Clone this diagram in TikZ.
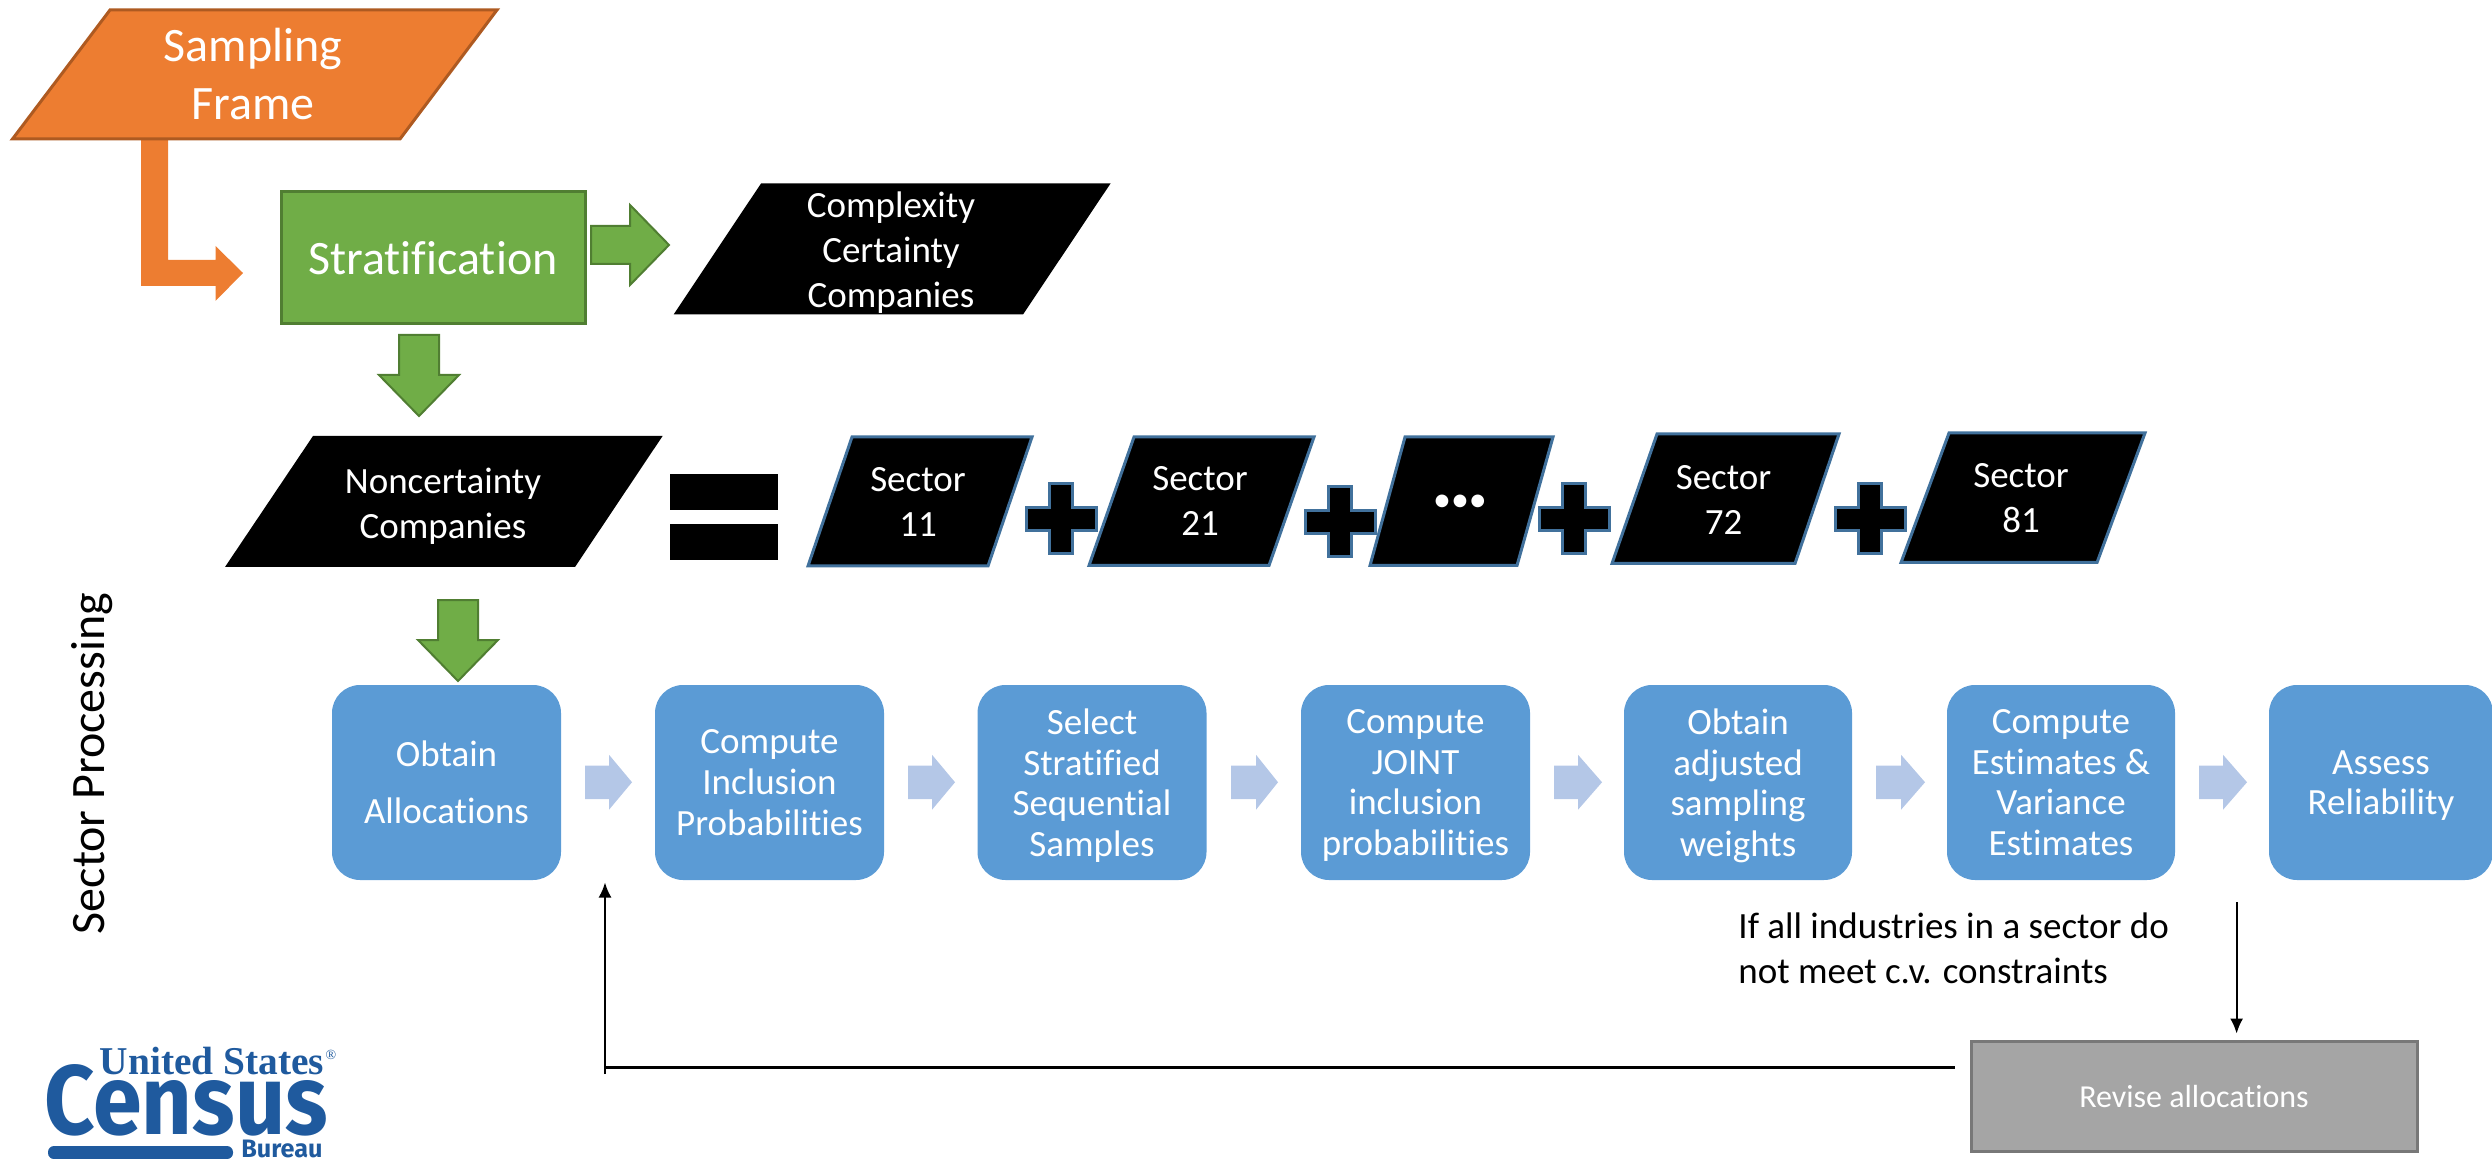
\documentclass[tikz,border=0pt]{standalone}
\usepackage{fontspec}
\setmainfont[Ligatures=NoCommon]{Carlito}
\newfontfamily\logoserif{Liberation Serif}
\newfontfamily\logosans{Fira Sans}
\definecolor{orangeF}{HTML}{ED7D31}
\definecolor{orangeD}{HTML}{AE5A21}
\definecolor{greenF}{HTML}{70AD47}
\definecolor{greenD}{HTML}{507E32}
\definecolor{blueF}{HTML}{5B9BD5}
\definecolor{blueD}{HTML}{41719C}
\definecolor{lightA}{HTML}{B4C7E7}
\definecolor{grayF}{HTML}{A5A5A5}
\definecolor{grayD}{HTML}{787878}
\definecolor{logoB}{HTML}{1F5A9E}
\newcommand{\fs}[2]{\fontsize{#1pt}{#2pt}\selectfont}
\newcommand{\nod}[1]{\raisebox{0pt}[\height][0pt]{#1}}
% font sizes are in picture px x 0.5
\tikzset{
  x=0.5pt,y=-0.5pt,
  orangeShape/.style={fill=orangeF,draw=orangeD,line width=1.5pt,line join=miter},
  orangeArrow/.style={fill=orangeF,draw=none},
  greenArrow/.style={fill=greenF,draw=greenD,line width=1pt},
  blackShape/.style={fill=black,draw=none},
  sectorShape/.style={fill=black,draw=blueD,line width=1.5pt},
  lightArrow/.style={fill=lightA,draw=none},
  txt/.style={inner sep=0pt,align=center,text=white},
  body/.style={txt,font=\fs{18.5}{22.5}},
  bluebox/.style={fill=blueF,draw=none,rounded corners=14pt,inner sep=0pt,minimum height=97.5pt,
     text=white,align=center,font=\fs{18.5}{20.3}},
  feedback/.style={draw=black,line width=1pt,-{Latex[length=7.5pt,width=6.5pt]}},
}
\usetikzlibrary{arrows.meta}
\newcommand{\rightArrow}[7]{%
  \path[#1] (#2,#5) -- (#3,#5) -- (#3,{(#5+#6)/2-#7}) -- (#4,{(#5+#6)/2}) -- (#3,{(#5+#6)/2+#7}) -- (#3,#6) -- (#2,#6) -- cycle;}
\newcommand{\downArrow}[1]{%
  \path[greenArrow,shift={#1}] (-20,0) -- (20,0) -- (20,40) -- (40,40) -- (0,81) -- (-40,40) -- (-20,40) -- cycle;}
\newcommand{\plusSign}[1]{%
  \path[sectorShape,shift={#1}] (-11.5,-35) -- (11.5,-35) -- (11.5,-11.5) -- (35,-11.5) -- (35,11.5) -- (11.5,11.5) -- (11.5,35) -- (-11.5,35) -- (-11.5,11.5) -- (-35,11.5) -- (-35,-11.5) -- (-11.5,-11.5) -- cycle;}
\begin{document}
\begin{tikzpicture}
\useasboundingbox (0,0) rectangle (2492,1159);

% sampling frame
\path[orangeArrow] (141,135) -- (168,135) -- (168,260) -- (215.5,260) -- (215.5,246) -- (243,273) -- (215.5,301) -- (215.5,286) -- (141,286) -- cycle;
\path[orangeShape] (110,10) -- (497,10) -- (400,139) -- (12.5,139) -- cycle;
\node[txt,font=\fs{24}{29}] (frame) at (253,74.5) {Sampling\\Frame};

% stratification
\node[fill=greenF,draw=greenD,line width=1.5pt,minimum width=152pt,minimum height=66pt,inner sep=0pt,text=white,font=\fs{24}{29}] (strat) at (433,258) {Stratification};
\rightArrow{greenArrow}{591}{630}{669}{226}{264}{40}

% complexity
\path[blackShape] (761,183.5) -- (1110.5,183.5) -- (1023,314.5) -- (673.6,314.5) -- cycle;
\node[body] (complexity) at (891,250) {Complexity\\Certainty\\\nod{Companies}};

\downArrow{(419,335)}

% noncertainty
\path[blackShape] (313,436) -- (662.6,436) -- (575,567) -- (225,567) -- cycle;
\node[body] (noncert) at (443,503) {Noncertainty\\\nod{Companies}};

% equals
\fill[black] (670,474) rectangle (778,510);
\fill[black] (670,524) rectangle (778,560);

% sectors
\path[sectorShape] (852,437) -- (1032,437) -- (988,566) -- (808,566) -- cycle;
\node[body] (s11) at (918,502) {Sector\\11};
\plusSign{(1061,519)}
\path[sectorShape] (1134,437) -- (1314,437) -- (1269,565.5) -- (1089,565.5) -- cycle;
\node[body] (s21) at (1200,501) {Sector\\21};
\plusSign{(1340,522)}
\path[sectorShape] (1405,437) -- (1553,437) -- (1517,565.5) -- (1370,565.5) -- cycle;
\node[txt,font=\fs{18}{22}] (dots) at (1460,503) {•••};
\plusSign{(1574,519)}
\path[sectorShape] (1657,434) -- (1839,434) -- (1795,563.5) -- (1612,563.5) -- cycle;
\node[body] (s72) at (1723.5,499.5) {Sector\\72};
\plusSign{(1870,519)}
\path[sectorShape] (1949,433) -- (2145,433) -- (2097,562.5) -- (1901,562.5) -- cycle;
\node[body] (s81) at (2021,498) {Sector\\81};

\downArrow{(458,600)}

% process
\node[bluebox,minimum width=114.5pt,font=\fs{18.5}{28.5}] (b1) at (446.5,782.5) {Obtain\\Allocations};
\node[bluebox,minimum width=114.5pt] (b2) at (769.5,782.5) {Compute\\Inclusion\\\nod{Probabilities}};
\node[bluebox,minimum width=114.5pt] (b3) at (1092,782.5) {Select\\Stratified\\Sequential\\\nod{Samples}};
\node[bluebox,minimum width=114.5pt] (b4) at (1415.5,782.5) {Compute\\JOINT\\inclusion\\\nod{probabilities}};
\node[bluebox,minimum width=114pt] (b5) at (1738,782.5) {Obtain\\adjusted\\sampling\\\nod{weights}};
\node[bluebox,minimum width=114pt] (b6) at (2061,782.5) {Compute\\Estimates \&\\Variance\\Estimates};
\node[bluebox,minimum width=112pt] (b7) at (2381,782.5) {Assess\\\nod{Reliability}};

\rightArrow{lightArrow}{585}{609}{632}{765.5}{799}{27.5}
\rightArrow{lightArrow}{908}{932}{955}{765.5}{799}{27.5}
\rightArrow{lightArrow}{1231}{1256}{1278}{765.5}{799}{27.5}
\rightArrow{lightArrow}{1554}{1578}{1602}{765.5}{799}{27.5}
\rightArrow{lightArrow}{1876}{1901}{1925}{765.5}{799}{27.5}
\rightArrow{lightArrow}{2199}{2223}{2247}{765.5}{799}{27.5}

\node[rotate=90,inner sep=0pt,font=\fs{24}{29}] (sector) at (92,763.5) {Sector Processing};

% revise + feedback
\node[fill=grayF,draw=grayD,line width=1.5pt,minimum width=223pt,minimum height=55pt,inner sep=0pt,text=white,font=\fs{16}{20}] (revise) at (2194,1096) {Revise allocations};
\node[inner sep=0pt,align=left,font=\fs{18.5}{22.5}] (note) at (1738,948) [anchor=west] {If all industries in a sector do\\not meet c.v. constraints};

\coordinate (dstart) at (2236.6,902);
\coordinate (dend) at (2236.6,1033.6);
\draw[feedback] (dstart) -- (dend);
\coordinate (hstart) at (1954.5,1067);
\coordinate (hcorner) at (605,1067);
\coordinate (vbot) at (605,1074);
\coordinate (vtop) at (605,882.5);
\draw[draw=black,line width=1.5pt] (hstart) -- (hcorner);
\draw[feedback] (vbot) -- (vtop);

% logo
\node[inner sep=0pt,text=logoB,font=\logoserif\bfseries\fs{19.7}{20}] (lg1) at (212,1061) {United States};
\node[inner sep=0pt,text=logoB,font=\logoserif\fs{7}{7}] (lgr) at (331,1055) {®};
\node[inner sep=0pt,text=logoB,yscale=1.12,font=\logosans\bfseries\fs{44}{44}] (lg2) at (186,1100) {Census};
\fill[logoB,rounded corners=3pt] (48,1146) rectangle (233,1159);
\node[inner sep=0pt,text=logoB,font=\logosans\bfseries\fs{12.6}{13}] (lg3) at (282,1149) {Bureau};
\end{tikzpicture}
\end{document}
